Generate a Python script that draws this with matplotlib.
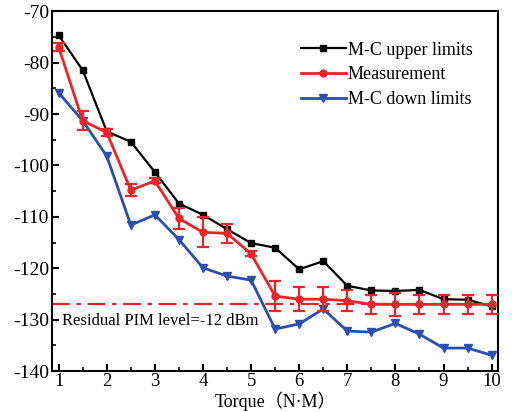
import numpy as np
import matplotlib
matplotlib.use("Agg")
import matplotlib.pyplot as plt
from matplotlib.ticker import MultipleLocator

plt.rcParams['font.family'] = ['Liberation Serif', 'Noto Sans CJK SC', 'DejaVu Sans']
plt.rcParams['axes.unicode_minus'] = False

torque = [1, 1.5, 2, 2.5, 3, 3.5, 4, 4.5, 5, 5.5, 6, 6.5, 7, 7.5, 8, 8.5, 9, 9.5, 10]

upper = [-74.7, -81.5, -93.4, -95.4, -101.3, -107.4, -109.6, -112.4, -115.1, -116.0,
         -120.2, -118.6, -123.4, -124.3, -124.4, -124.2, -126.0, -126.1, -127.4]
measure = [-77.0, -91.3, -93.6, -104.8, -103.0, -110.3, -113.0, -113.2, -117.2, -125.4,
           -126.0, -126.0, -126.3, -127.0, -127.0, -127.0, -127.0, -127.0, -127.0]
measure_err = [0.8, 1.9, 0.7, 1.1, 0.5, 2.0, 2.9, 1.9, 0.5, 2.9,
               2.3, 2.3, 2.0, 1.8, 2.2, 1.8, 1.8, 1.8, 1.8]
lower = [-85.9, -91.3, -98.2, -111.6, -109.6, -114.4, -119.9, -121.5, -122.3, -131.8,
         -130.8, -127.9, -132.2, -132.4, -130.7, -132.8, -135.5, -135.5, -136.9]

residual = -127.0
residual_text = "Residual PIM level=-12 dBm"

RED = '#ec2327'
BLUE = '#2a4fae'

fig = plt.figure(figsize=(5.12, 4.12), dpi=100)
ax = fig.add_axes([0.101, 0.099, 0.871, 0.874])

h_up, = ax.plot(torque, upper, c='black', lw=1.6, marker='s', ms=4.5, zorder=3)
h_meas = ax.errorbar(torque, measure, yerr=measure_err, c=RED, lw=2, marker='o', ms=5,
                     capsize=4, capthick=1.6, elinewidth=1.6, zorder=4)
h_low, = ax.plot(torque, lower, c=BLUE, lw=2, marker='v', ms=6, zorder=3)

ax.axhline(residual, c=RED, lw=1.6, ls=(0, (8, 3, 2, 3)), zorder=2)
ax.text(1.06, -130.2, residual_text, fontsize=12, va='center', ha='left')

ax.set_xlim(0.855, 10.125)
ax.set_ylim(-140, -70)
ax.xaxis.set_major_locator(MultipleLocator(1))
ax.xaxis.set_minor_locator(MultipleLocator(0.5))
ax.yaxis.set_major_locator(MultipleLocator(10))
ax.yaxis.set_minor_locator(MultipleLocator(5))
ax.tick_params(which='both', direction='in', top=False, right=False, labelsize=14, pad=2)
ax.tick_params(axis='x', labelsize=13.5, pad=1.5)
ax.tick_params(which='major', length=5, width=1.5)
ax.tick_params(which='minor', length=3, width=1.2)
for s in ax.spines.values():
    s.set_linewidth(1.5)

# x label sits at the very bottom of the figure
fig.text(0.537, 0.002, "Torque（N·M）", fontsize=13, ha='center', va='bottom')

ax.legend([h_up, h_meas[0], h_low], ['M-C upper limits', 'Measurement', 'M-C down limits'],
          loc='upper right', bbox_to_anchor=(0.96, 0.935), frameon=False, fontsize=13,
          handlelength=2.5, handletextpad=0.1, labelspacing=0.42, borderaxespad=0)

fig.savefig('out.png', dpi=100)
